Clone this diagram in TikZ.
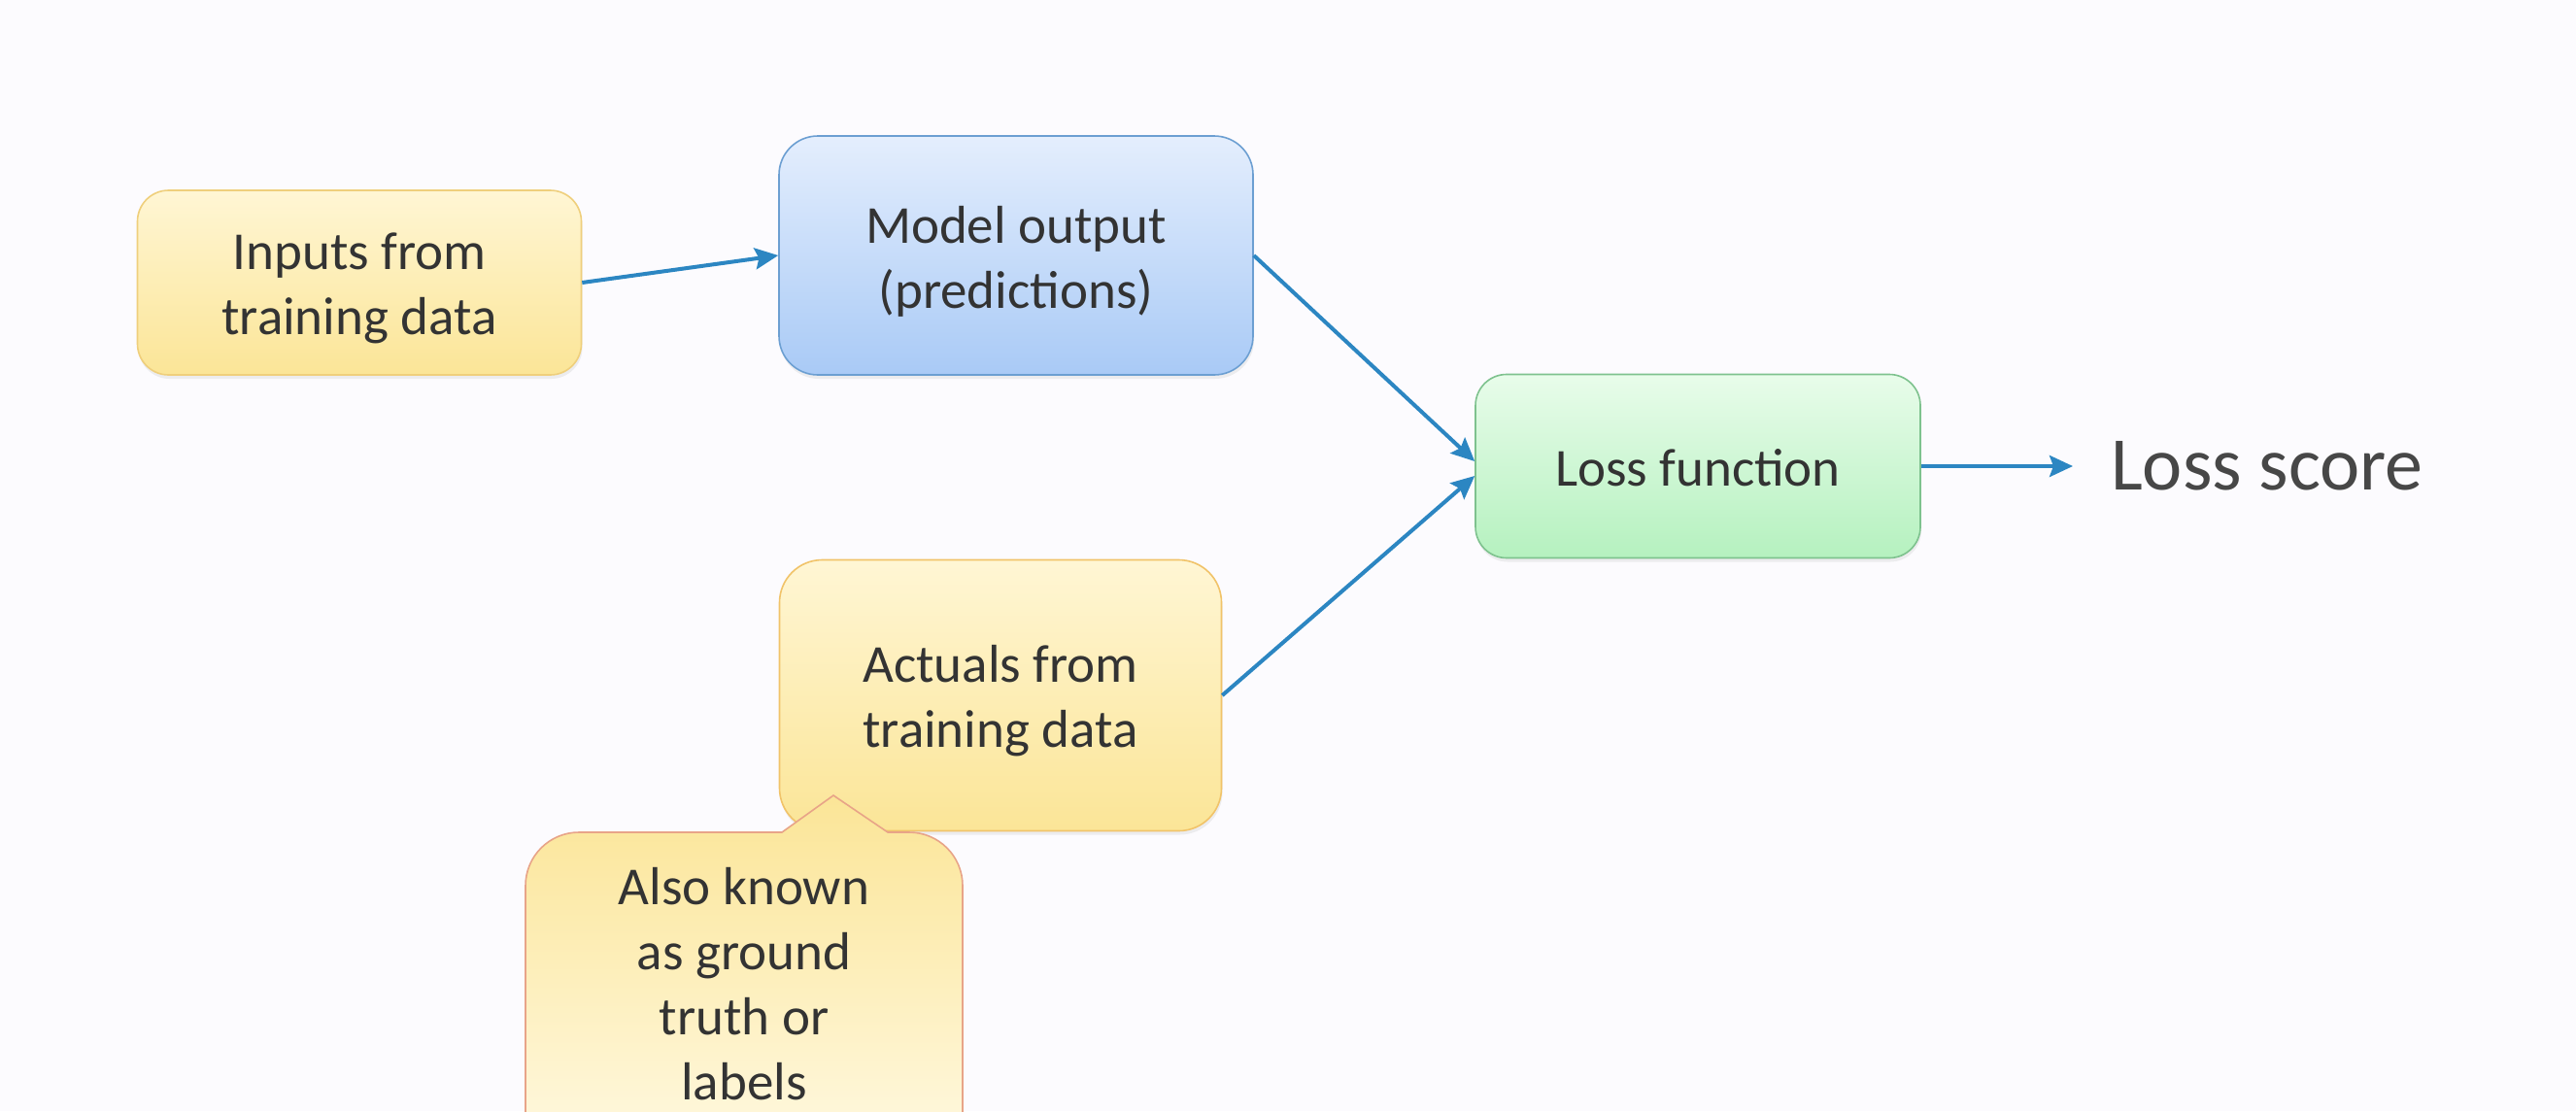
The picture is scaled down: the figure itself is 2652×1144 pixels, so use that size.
\documentclass[tikz,border=0pt]{standalone}
\usepackage{fontspec}
\setmainfont{Carlito}
\usetikzlibrary{arrows.meta,shadows}
\definecolor{bg}{HTML}{FCFBFE}
\definecolor{txt}{HTML}{333333}
\definecolor{arrowblue}{HTML}{2C86C2}
\definecolor{ytop}{HTML}{FFF6D4}
\definecolor{ybot}{HTML}{FBE597}
\definecolor{yline}{HTML}{EFCF7C}
\definecolor{btop}{HTML}{E4EEFD}
\definecolor{bbot}{HTML}{A9CAF6}
\definecolor{bline}{HTML}{6C9FD2}
\definecolor{gtop}{HTML}{E8FCEA}
\definecolor{gbot}{HTML}{B5F1BF}
\definecolor{gline}{HTML}{7EC28E}
\definecolor{cline}{HTML}{E8A488}
\begin{document}
\begin{tikzpicture}[x=1pt,y=-1pt,
  boxbase/.style={draw, line width=1.6pt, inner sep=0pt,
    drop shadow={shadow xshift=1pt, shadow yshift=-4pt, opacity=0.12}},
  boxtext/.style={align=center, inner sep=0pt, font=\fontsize{55}{67}\selectfont, text=txt},
  yellowbox/.style={boxbase, draw=yline, top color=ytop, bottom color=ybot},
  bluebox/.style={boxbase, draw=bline, top color=btop, bottom color=bbot},
  greenbox/.style={boxbase, draw=gline, top color=gtop, bottom color=gbot},
  arr/.style={draw=arrowblue, line width=4pt, -{Stealth[length=24pt,width=22pt,inset=4pt]}}
]
\clip (0,0) rectangle (2652,1144);
\fill[bg] (0,0) rectangle (2652,1144);

\node[yellowbox, rounded corners=32pt, minimum width=457pt, minimum height=190pt] (inputs) at (370,291) {};
\node[boxtext] (inputsT) at ([yshift=-6pt]inputs.center) {Inputs from\\training data};
\node[bluebox, rounded corners=40pt, minimum width=488pt, minimum height=246pt] (model) at (1046,263) {};
\node[boxtext] (modelT) at ([yshift=-6pt]model.center) {Model output\\(predictions)};
\node[greenbox, rounded corners=32pt, minimum width=458pt, minimum height=189pt] (loss) at (1748,480) {};
\node[boxtext] (lossT) at ([yshift=-2pt]loss.center) {Loss function};
\node[yellowbox, draw=yline!85!orange, rounded corners=44pt, minimum width=455pt, minimum height=279pt] (actuals) at (1030,716) {};
\node[boxtext] (actualsT) at ([yshift=-6pt]actuals.center) {Actuals from\\training data};

% callout
\path[draw=cline, line width=1.6pt, top color=ybot, bottom color=ytop!70!white]
  (541,1190) -- (541,912) .. controls (541,881.6) and (565.6,857) .. (596,857) -- (805,857) -- (858,819) -- (914,857)
  -- (936,857) .. controls (966.4,857) and (991,881.6) .. (991,912) -- (991,1190) -- cycle;
\node[boxtext] (callout) at (766,1013) {Also known\\as ground\\truth or\\labels};

\node[anchor=west, inner sep=0pt, font=\fontsize{78}{90}\selectfont, text=txt!90!white] (score) at (2173,480) {Loss score};

\draw[arr] (inputs.east) -- (model.west);
\draw[arr] (model.east) -- ([yshift=5pt]loss.west);
\draw[arr] (actuals.east) -- ([yshift=-10pt]loss.west);
\draw[arr] (loss.east) -- ([xshift=-39pt]score.west);
\end{tikzpicture}
\end{document}
